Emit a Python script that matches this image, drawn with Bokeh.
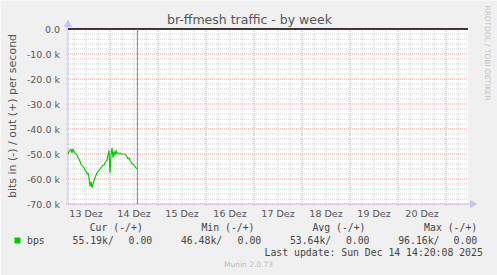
import math
from bokeh.plotting import figure
from bokeh.models import Label, BoxAnnotation, Range1d
from bokeh.core.properties import value
from bokeh.embed import file_html
from bokeh.resources import INLINE

# ---------------- data ----------------
title_text = "br-ffmesh traffic - by week"
y_label_text = "bits in (-) / out (+) per second"

# hours since 13 Dez 00:00 (30-minute samples)
hours = [3.0, 3.5, 4.0, 4.5, 5.0, 5.5, 6.0, 6.5, 7.0, 7.5,
         8.0, 8.5, 9.0, 9.5, 10.0, 10.5, 11.0, 11.5, 12.0, 12.5,
         13.0, 13.5, 14.0, 14.5, 15.0, 15.5, 16.0, 16.5, 17.0, 17.5,
         18.0, 18.5, 19.0, 19.5, 20.0, 20.5, 21.0, 21.5, 22.0, 22.5,
         23.0, 23.5, 24.0, 24.5, 25.0, 25.5, 26.0, 26.5, 27.0, 27.5,
         28.0, 28.5, 29.0, 29.5, 30.0, 30.5, 31.0, 31.5, 32.0, 32.5,
         33.0, 33.5, 34.0, 34.5, 35.0, 35.5, 36.0, 36.5, 37.0, 37.5]
# inbound traffic in kbit/s (drawn on the negative side)
bps_in_k = [50.0, 49.0, 48.5, 48.0, 49.5, 48.0, 49.0, 49.5, 50.0, 50.5,
            51.5, 52.0, 53.0, 54.0, 54.5, 55.0, 55.5, 56.5, 57.0, 58.0,
            57.5, 59.5, 63.0, 61.0, 63.5, 62.0, 60.5, 59.5, 58.5, 57.5,
            57.0, 56.5, 56.0, 55.5, 55.0, 54.5, 54.5, 53.5, 53.0, 52.5,
            50.5, 48.5, 57.5, 50.5, 47.5, 51.5, 49.0, 50.5, 48.5, 50.0,
            49.5, 50.0, 49.5, 50.0, 50.0, 50.0, 50.0, 50.0, 50.5, 51.0,
            52.0, 51.5, 52.5, 53.0, 54.0, 54.0, 54.5, 55.0, 55.5, 56.0]
bps_out = [0.0, 0.0]
now_hour = 37.7

# visible window of the graph
x_start_h, x_end_h = 3, 203
y_min, y_max = -70000, 0

day_noons = [12, 36, 60, 84, 108, 132, 156, 180]
day_labels = ["13 Dez", "14 Dez", "15 Dez", "16 Dez", "17 Dez", "18 Dez",
              "19 Dez", "20 Dez"]
midnights = [24, 48, 72, 96, 120, 144, 168, 192]
six_hours = [6, 12, 18, 30, 36, 42, 54, 60, 66, 78, 84, 90, 102, 108, 114,
             126, 132, 138, 150, 156, 162, 174, 180, 186, 198]

y_ticks = [0, -10000, -20000, -30000, -40000, -50000, -60000, -70000]
y_tick_labels = ["0.0", "-10.0 k", "-20.0 k", "-30.0 k", "-40.0 k",
                 "-50.0 k", "-60.0 k", "-70.0 k"]
y_minor = [-2000, -4000, -6000, -8000, -12000, -14000, -16000, -18000,
           -22000, -24000, -26000, -28000, -32000, -34000, -36000, -38000,
           -42000, -44000, -46000, -48000, -52000, -54000, -56000, -58000,
           -62000, -64000, -66000, -68000]

series_name = "bps"
stat_heads = ["Cur (-/+)", "Min (-/+)", "Avg (-/+)", "Max (-/+)"]
stat_in = ["55.19k/", "46.48k/", "53.64k/", "96.16k/"]
stat_out = ["0.00", "0.00", "0.00", "0.00"]
last_update = "Last update: Sun Dec 14 14:20:08 2025"
footer = "Munin 2.0.73"
watermark = "RRDTOOL / TOBI OETIKER"

# ---------------- styles ----------------
GREEN = "#00cc00"
BG = "#f0f0f0"
AXIS = "#c4c4f4"
MAJOR = "#ee9a9a"
MINOR = "#cfcfcf"
TICK_TXT = "#555555"
TXT = "#444444"
SANS = "DejaVu Sans"
MONO = "DejaVu Sans Mono"
W, H = 497, 275
PX_PER_H = 2.0          # horizontal scale: pixels per hour
PX_PER_BPS = 2.5e-3     # vertical scale: pixels per bit/s
LEFT_PX, TOP_PX = 67.5, 28.5

x0 = x_start_h - LEFT_PX / PX_PER_H
y1 = y_max + TOP_PX / PX_PER_BPS
p = figure(width=W, height=H, output_backend="svg", toolbar_location=None,
           x_axis_type=None, y_axis_type=None, min_border=0,
           x_range=Range1d(x0, x0 + W / PX_PER_H),
           y_range=Range1d(y1 - H / PX_PER_BPS, y1))
p.background_fill_color = BG
p.border_fill_color = BG
p.outline_line_color = None

hpx = 1 / PX_PER_H      # one pixel in hours
vpx = 1 / PX_PER_BPS    # one pixel in bit/s

# canvas of the graph
p.quad(left=[x_start_h], right=[x_end_h], bottom=[y_min], top=[y_max],
       fill_color="#ffffff", line_color=None)

# minor grid
p.segment(x0=six_hours, x1=six_hours, y0=[y_min - 2 * vpx] * len(six_hours),
          y1=[y_max] * len(six_hours), line_color=MINOR, line_dash="1 1",
          line_width=1)
p.segment(x0=[x_start_h - 2 * hpx] * len(y_minor),
          x1=[x_end_h] * len(y_minor), y0=y_minor, y1=y_minor,
          line_color=MINOR, line_dash="1 1", line_width=1)
# major grid
p.segment(x0=midnights, x1=midnights, y0=[y_min - 2 * vpx] * len(midnights),
          y1=[y_max] * len(midnights), line_color=MAJOR, line_dash="1 1",
          line_width=1)
p.segment(x0=[x_start_h - 2 * hpx] * len(y_ticks),
          x1=[x_end_h] * len(y_ticks), y0=y_ticks, y1=y_ticks,
          line_color=MAJOR, line_dash="1 1", line_width=1)

# axes with arrow heads
p.segment(x0=[x_start_h], x1=[x_start_h], y0=[y_min], y1=[y_max + 6 * vpx],
          line_color=AXIS, line_width=1)
p.segment(x0=[x_start_h], x1=[x_end_h + 3 * hpx], y0=[y_min], y1=[y_min],
          line_color=AXIS, line_width=1)
p.scatter([x_start_h], [y_max + 4.5 * vpx], marker="triangle", size=7,
          fill_color=AXIS, line_color=AXIS)
p.scatter([x_end_h + 4.5 * hpx], [y_min], marker="triangle", size=7,
          angle=-math.pi / 2, fill_color=AXIS, line_color=AXIS)

# tick labels
p.text(x=day_noons, y=[y_min - 9 * vpx] * len(day_noons), text=day_labels,
       text_font=value(SANS), text_font_size="9.5px", text_color=TICK_TXT,
       text_align="center", text_baseline="middle")
p.text(x=[x_start_h - 8 * hpx] * len(y_ticks), y=y_ticks, text=y_tick_labels,
       text_font=value(SANS), text_font_size="9.5px", text_color=TICK_TXT,
       text_align="right", text_baseline="middle")

# outbound (zero) line, "now" rule, inbound traffic (negative)
p.line([x_start_h, x_end_h], bps_out, line_color="#000000", line_width=1.3)
p.segment(x0=[now_hour], x1=[now_hour], y0=[y_min], y1=[y_max],
          line_color="#888888", line_width=1)
p.line(hours, [-v * 1000 for v in bps_in_k], line_color=GREEN,
       line_width=1.2)


def lab(text, cx, cy, font=SANS, size="9.5px", color=TICK_TXT, align="left",
        baseline="middle", angle=0.0):
    # cx, cy: pixels from the top-left corner of the picture
    p.add_layout(Label(x=cx, y=H - cy, x_units="screen", y_units="screen",
                       text=text, text_font=font, text_font_size=size,
                       text_color=color, text_align=align,
                       text_baseline=baseline, angle=angle))


lab(title_text, 249, 19, size="12.5px", align="center")
lab(y_label_text, 12, 115.5, size="11px", align="center", angle=math.pi / 2)
lab(watermark, 487, 5, size="7.4px", color="#c4c4c4", angle=-math.pi / 2)

head_right = [142.3, 254.0, 365.0, 476.7]
in_right = [113.3, 221.7, 330.7, 439.0]
out_right = [151.7, 260.7, 369.0, 476.7]
for h, x in zip(stat_heads, head_right):
    lab(h, x, 227, font=MONO, size="9.8px", color=TXT, align="right")
lab(series_name, 26.5, 239.5, font=MONO, size="9.8px", color=TXT)
for t, x in zip(stat_in, in_right):
    lab(t, x, 239.5, font=MONO, size="9.8px", color=TXT, align="right")
for t, x in zip(stat_out, out_right):
    lab(t, x, 239.5, font=MONO, size="9.8px", color=TXT, align="right")
lab(last_update, 482.3, 252, font=MONO, size="9.8px", color=TXT,
    align="right")
lab(footer, 248, 263.5, size="7.5px", color="#bbbbbb", align="center")
p.add_layout(BoxAnnotation(left=14, right=20, top=H - 237, bottom=H - 243,
                           left_units="screen", right_units="screen",
                           top_units="screen", bottom_units="screen",
                           fill_color=GREEN, fill_alpha=1.0, line_color=None))

open("out.html", "w").write(file_html(p, INLINE))
